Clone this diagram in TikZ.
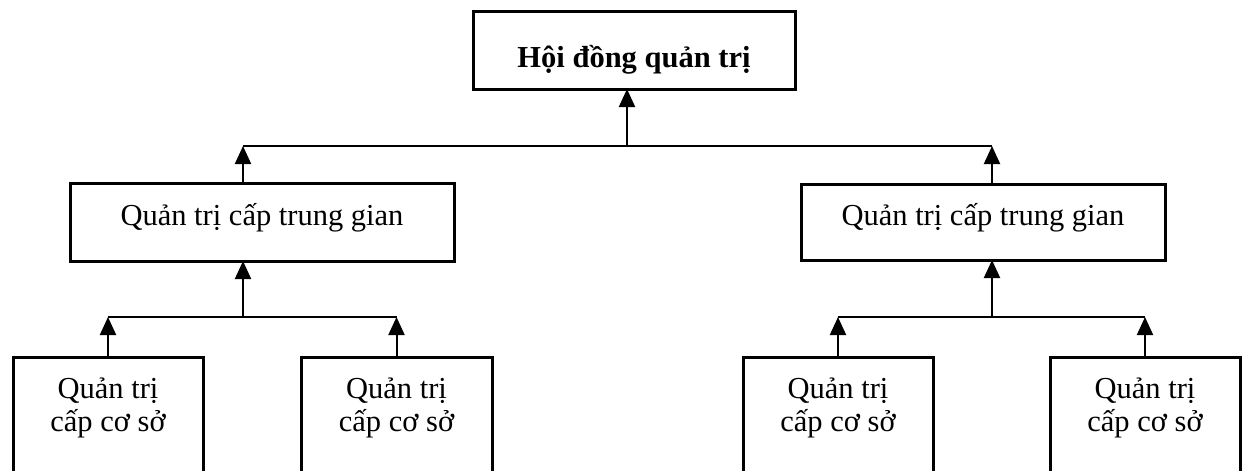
\documentclass[tikz,border=0pt]{standalone}
\usepackage{fontspec}
\setmainfont{Liberation Serif}
\usetikzlibrary{arrows.meta}
\begin{document}
\begin{tikzpicture}[x=1pt,y=-1pt,
  box/.style={draw=black,line width=3pt,fill=white,inner sep=0pt,outer sep=0pt},
  lbl/.style={anchor=base,inner sep=0pt,font=\fontsize{30.5}{35}\selectfont},
  conn/.style={line width=2pt},
  arr/.style={line width=2pt,-{Triangle[width=16pt,length=18pt]}}]
\useasboundingbox (0,0) rectangle (1243,471);
\begin{scope}
\clip (0,0) rectangle (1243,471);
% boxes
\node[box,minimum width=322pt,minimum height=78pt] (top) at (634,50) {};
\node[box,minimum width=384pt,minimum height=78pt] (lm) at (262,222) {};
\node[box,minimum width=364pt,minimum height=76pt] (rm) at (983,222) {};
\node[box,minimum width=190pt,minimum height=140pt] (b1) at (108,427) {};
\node[box,minimum width=191pt,minimum height=140pt] (b2) at (396.5,427) {};
\node[box,minimum width=190pt,minimum height=140pt] (b3) at (838,427) {};
\node[box,minimum width=190pt,minimum height=140pt] (b4) at (1145,427) {};
% texts
\node[lbl,font=\fontsize{30.5}{35}\selectfont\bfseries] (ttop) at (634,67) {Hội đồng quản trị};
\node[lbl] (tlm) at (262,225) {Quản trị cấp trung gian};
\node[lbl] (trm) at (983,225) {Quản trị cấp trung gian};
\node[lbl] (t1a) at (108,398) {Quản trị};
\node[lbl] (t1b) at (108,431) {cấp cơ sở};
\node[lbl] (t2a) at (396.5,398) {Quản trị};
\node[lbl] (t2b) at (396.5,431) {cấp cơ sở};
\node[lbl] (t3a) at (838,398) {Quản trị};
\node[lbl] (t3b) at (838,431) {cấp cơ sở};
\node[lbl] (t4a) at (1145,398) {Quản trị};
\node[lbl] (t4b) at (1145,431) {cấp cơ sở};
% junctions
\coordinate (j0) at (627,146);
\coordinate (jl) at (243,146);
\coordinate (jr) at (992,146);
\coordinate (kl) at (243,317);
\coordinate (kr) at (992,317);
\coordinate (kl1) at (108,317);
\coordinate (kl2) at (396.5,317);
\coordinate (kr1) at (838,317);
\coordinate (kr2) at (1145,317);
% connectors
\draw[conn] (jl) -- (jr);
\draw[arr] (j0) -- (j0 |- top.south);
\draw[arr] (jl |- lm.north) -- (jl);
\draw[arr] (jr |- rm.north) -- (jr);
\draw[conn] (kl1) -- (kl2);
\draw[arr] (kl) -- (kl |- lm.south);
\draw[arr] (b1.north) -- (kl1);
\draw[arr] (b2.north) -- (kl2);
\draw[conn] (kr1) -- (kr2);
\draw[arr] (kr) -- (kr |- rm.south);
\draw[arr] (b3.north) -- (kr1);
\draw[arr] (b4.north) -- (kr2);
\end{scope}
\end{tikzpicture}
\end{document}
